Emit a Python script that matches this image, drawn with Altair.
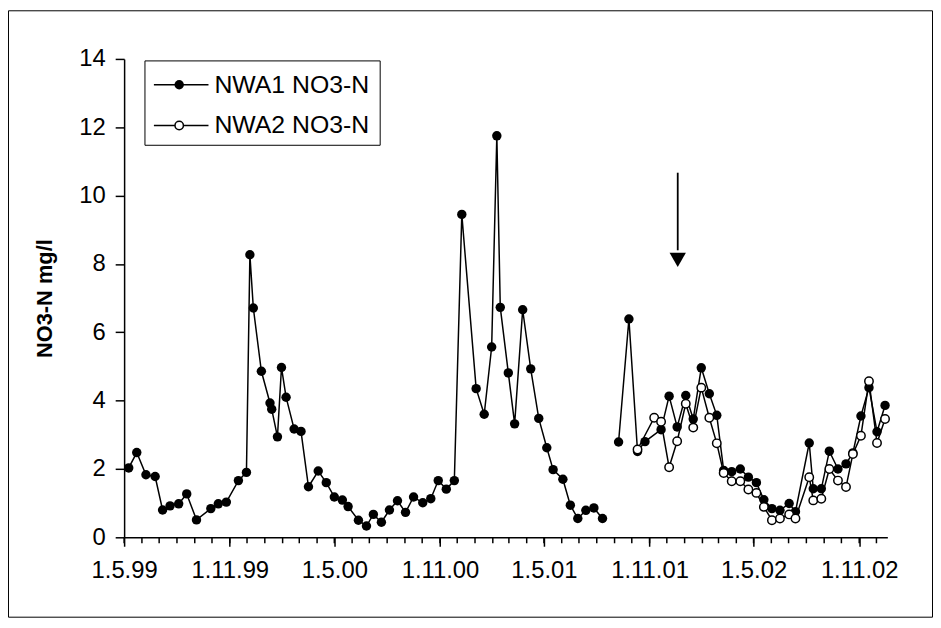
import altair as alt
import pandas as pd

# ---------------- data ----------------
series_names = ["NWA1 NO3-N", "NWA2 NO3-N"]

nwa1_dates = [
    "1999-05-09", "1999-05-23", "1999-06-08", "1999-06-24", "1999-07-07", "1999-07-20",
    "1999-08-04", "1999-08-18", "1999-09-04", "1999-09-29", "1999-10-12", "1999-10-26",
    "1999-11-16", "1999-11-30", "1999-12-06", "1999-12-12", "1999-12-26", "2000-01-10",
    "2000-01-13", "2000-01-23", "2000-01-30", "2000-02-07", "2000-02-21", "2000-03-04",
    "2000-03-17", "2000-04-03", "2000-04-17", "2000-05-01", "2000-05-15", "2000-05-25",
    "2000-06-12", "2000-06-26", "2000-07-08", "2000-07-22", "2000-08-05", "2000-08-19",
    "2000-09-02", "2000-09-16", "2000-10-02", "2000-10-16", "2000-10-29", "2000-11-12",
    "2000-11-26", "2000-12-09", "2001-01-03", "2001-01-17", "2001-01-30", "2001-02-08",
    "2001-02-14", "2001-02-28", "2001-03-11", "2001-03-25", "2001-04-08", "2001-04-22",
    "2001-05-06", "2001-05-17", "2001-06-03", "2001-06-16", "2001-06-29", "2001-07-13",
    "2001-07-27", "2001-08-11",
    "2001-09-08", "2001-09-26", "2001-10-11", "2001-10-24", "2001-11-21", "2001-12-05",
    "2001-12-19", "2002-01-03", "2002-01-16", "2002-01-30", "2002-02-13", "2002-02-26",
    "2002-03-10", "2002-03-24", "2002-04-08", "2002-04-22", "2002-05-06", "2002-05-19",
    "2002-06-02", "2002-06-16", "2002-07-02", "2002-07-13", "2002-08-06", "2002-08-13",
    "2002-08-27", "2002-09-10", "2002-09-25", "2002-10-09", "2002-10-21", "2002-11-04",
    "2002-11-18", "2002-12-02", "2002-12-16",
]
nwa1_values = [
    2.03, 2.48, 1.83, 1.78, 0.80, 0.92,
    0.98, 1.27, 0.51, 0.84, 0.98, 1.03,
    1.66, 1.90, 8.27, 6.71, 4.86, 3.93,
    3.75, 2.94, 4.97, 4.10, 3.17, 3.10,
    1.48, 1.94, 1.60, 1.18, 1.09, 0.90,
    0.50, 0.33, 0.67, 0.44, 0.80, 1.07,
    0.73, 1.18, 1.01, 1.13, 1.66, 1.41,
    1.66, 9.45, 4.35, 3.60, 5.57, 11.75,
    6.73, 4.81, 3.32, 6.66, 4.93, 3.48,
    2.62, 1.98, 1.70, 0.94, 0.55, 0.79,
    0.86, 0.55,
    2.79, 6.39, 2.51, 2.80, 3.15, 4.13,
    3.23, 4.15, 3.46, 4.96, 4.20, 3.57,
    1.96, 1.92, 2.00, 1.76, 1.60, 1.10,
    0.84, 0.79, 0.99, 0.75, 2.76, 1.42,
    1.42, 2.52, 2.00, 2.15, 2.47, 3.55,
    4.38, 3.09, 3.86,
]
nwa1_gap_after = "2001-08-31"   # no NWA1 samples between Aug and Sep 2001

nwa2_dates = [
    "2001-10-11", "2001-11-09", "2001-11-21", "2001-12-05", "2001-12-19", "2002-01-03",
    "2002-01-16", "2002-01-30", "2002-02-13", "2002-02-26", "2002-03-10", "2002-03-24",
    "2002-04-08", "2002-04-22", "2002-05-06", "2002-05-19", "2002-06-02", "2002-06-16",
    "2002-07-02", "2002-07-13", "2002-08-06", "2002-08-13", "2002-08-27", "2002-09-10",
    "2002-09-25", "2002-10-09", "2002-10-21", "2002-11-04", "2002-11-18", "2002-12-02",
    "2002-12-16",
]
nwa2_values = [
    2.57, 3.50, 3.38, 2.05, 2.81, 3.91,
    3.21, 4.38, 3.50, 2.75, 1.88, 1.64,
    1.64, 1.40, 1.30, 0.89, 0.50, 0.55,
    0.67, 0.55, 1.76, 1.08, 1.13, 2.00,
    1.66, 1.47, 2.44, 2.97, 4.57, 2.76,
    3.46,
]

x_label_dates = [(1999, 5), (1999, 11), (2000, 5), (2000, 11),
                 (2001, 5), (2001, 11), (2002, 5), (2002, 11)]
x_domain = [(1999, 5, 1), (2002, 12, 20)]
y_ticks = [0, 2, 4, 6, 8, 10, 12, 14]

arrow_date = "2001-12-20"
arrow_top = 10.67
arrow_head = 8.12
arrow_head_base = 8.40

# ---------------- tables ----------------
df1 = pd.DataFrame({"date": nwa1_dates, "value": nwa1_values})
df1["seg"] = [0 if d <= nwa1_gap_after else 1 for d in nwa1_dates]
df2 = pd.DataFrame({"date": nwa2_dates, "value": nwa2_values})
minor_ticks = pd.DataFrame(
    {"date": pd.date_range("1999-05-01", "2002-12-01", freq="MS").strftime("%Y-%m-%d")}
)
arrow_df = pd.DataFrame({"date": [arrow_date], "value": [arrow_top],
                         "base": [arrow_head_base], "head": [arrow_head]})
one = pd.DataFrame({"k": [0]})

W, H = 769, 482
FONT = "Liberation Sans"

xscale = alt.Scale(
    type="utc",
    domain=[alt.DateTime(year=y, month=m, date=d, utc=True) for (y, m, d) in x_domain],
    nice=False,
)
xaxis = alt.Axis(
    values=[alt.DateTime(year=y, month=m, date=1, utc=True) for (y, m) in x_label_dates],
    format="%-d.%-m.%y", tickSize=9, tickWidth=1.5, domainWidth=1.5,
    labelFontSize=24, labelPadding=12, labelFlush=False, labelOverlap=False,
    title=None, grid=False,
)
yscale = alt.Scale(domain=[0, 14], nice=False, zero=True)
yaxis = alt.Axis(
    values=y_ticks, tickSize=9, tickWidth=1.5, domainWidth=1.5,
    labelFontSize=24, labelPadding=10, grid=False,
    title="NO3-N mg/l", titleFontSize=22, titleFontWeight="bold",
    titlePadding=22, titleFont=FONT,
)

X = alt.X("date:T", scale=xscale, axis=xaxis)
Y = alt.Y("value:Q", scale=yscale, axis=yaxis)

line1 = alt.Chart(df1).mark_line(color="black", strokeWidth=1.5).encode(
    x=X, y=Y, detail="seg:N")
pts1 = alt.Chart(df1).mark_circle(size=90, color="black", opacity=1).encode(x=X, y=Y)
line2 = alt.Chart(df2).mark_line(color="black", strokeWidth=1.5).encode(x=X, y=Y)
pts2 = alt.Chart(df2).mark_circle(size=72, fill="white", stroke="black",
                                  strokeWidth=1.5, opacity=1).encode(x=X, y=Y)

minor = alt.Chart(minor_ticks).mark_rule(color="black", strokeWidth=1.5).encode(
    x=X, y=alt.value(H), y2=alt.value(H + 6))

arrow_shaft = alt.Chart(arrow_df).mark_rule(color="black", strokeWidth=1.8).encode(
    x=X, y=Y, y2="base:Q")
arrow_tip = alt.Chart(arrow_df).mark_point(
    shape="triangle-down", size=270, filled=True, color="black", opacity=1
).encode(x=X, y=alt.Y("head:Q", scale=yscale, axis=yaxis))

# legend (drawn as marks inside the plot area)
leg_box = alt.Chart(one).mark_rect(fill="white", stroke="black", strokeWidth=1).encode(
    x=alt.value(21), x2=alt.value(258), y=alt.value(2), y2=alt.value(87))
leg_layers = [leg_box]
for i, (name, ycen) in enumerate(zip(series_names, [26, 67])):
    ldf = pd.DataFrame({"label": [name]})
    leg_layers.append(alt.Chart(ldf).mark_rule(color="black", strokeWidth=1.5).encode(
        x=alt.value(30), x2=alt.value(85), y=alt.value(ycen)))
    if i == 0:
        sym = alt.Chart(ldf).mark_circle(size=90, color="black", opacity=1)
    else:
        sym = alt.Chart(ldf).mark_circle(size=72, fill="white", stroke="black",
                                         strokeWidth=1.5, opacity=1)
    leg_layers.append(sym.encode(x=alt.value(55.5), y=alt.value(ycen)))
    leg_layers.append(alt.Chart(ldf).mark_text(
        align="left", baseline="middle", fontSize=25, font=FONT, color="black"
    ).encode(text="label:N", x=alt.value(91), y=alt.value(ycen)))

frame = alt.Chart(one).mark_rect(fillOpacity=0, stroke="black", strokeWidth=1).encode(
    x=alt.value(-116.5), x2=alt.value(814.5), y=alt.value(-48.5), y2=alt.value(562.5))

chart = alt.layer(
    line1, pts1, line2, pts2, minor, arrow_shaft, arrow_tip, frame, *leg_layers
).properties(
    width=W, height=H,
    autosize=alt.AutoSizeParams(type="none"),
    padding={"left": 117, "top": 49, "right": 46, "bottom": 80},
).configure_view(stroke=None).configure_axis(
    labelFont=FONT, titleFont=FONT, labelColor="black", titleColor="black",
    domainColor="black", tickColor="black",
)

chart.save("out.html", embed_options={"renderer": "svg", "actions": False})
